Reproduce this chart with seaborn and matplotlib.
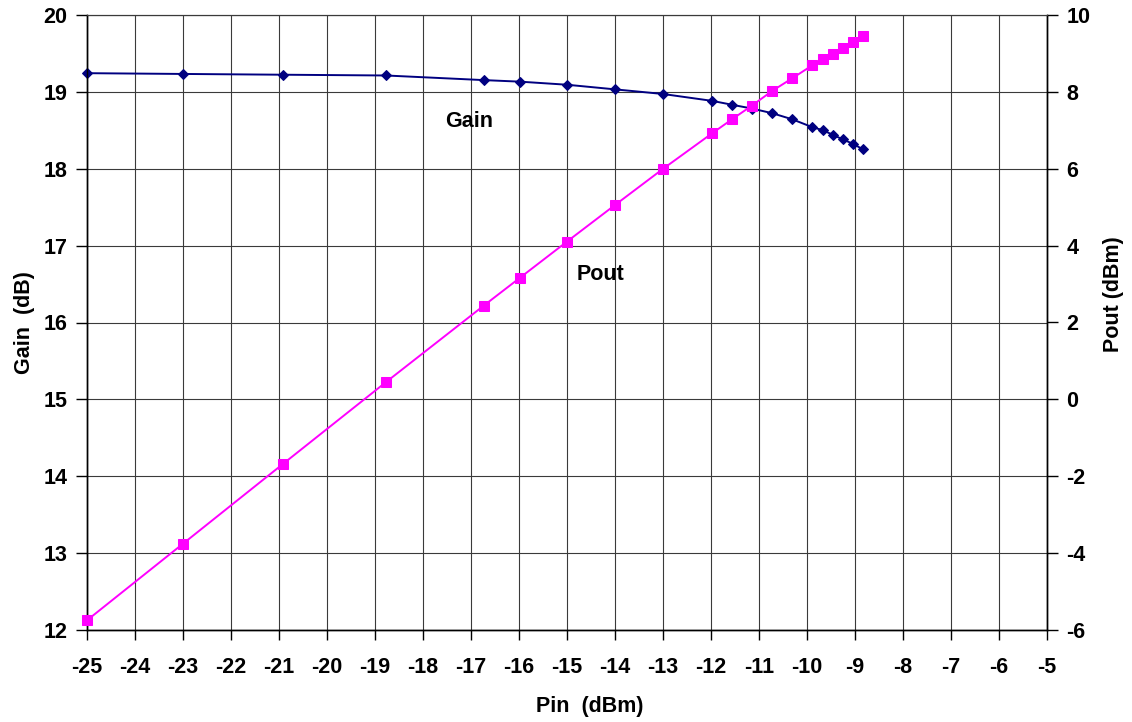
import matplotlib
matplotlib.use("Agg")
import matplotlib.pyplot as plt
import seaborn as sns
import numpy as np

# ---- data ----
pin = [-25.0, -23.0, -20.92, -18.77, -16.73, -15.98, -15.0, -14.0, -13.0, -11.97,
       -11.56, -11.14, -10.72, -10.30, -9.89, -9.67, -9.46, -9.25, -9.03, -8.83]
gain = [19.24, 19.23, 19.22, 19.21, 19.15, 19.13, 19.09, 19.03, 18.97, 18.88,
        18.83, 18.78, 18.72, 18.64, 18.54, 18.50, 18.44, 18.38, 18.32, 18.25]
pout = [-5.74, -3.75, -1.68, 0.45, 2.44, 3.16, 4.10, 5.05, 5.99, 6.92,
        7.28, 7.64, 8.02, 8.35, 8.68, 8.84, 8.99, 9.14, 9.30, 9.45]

x_ticks = list(range(-25, -4))
gain_ticks = list(range(12, 21))
pout_ticks = list(range(-6, 11, 2))

sns.set_theme(style="white")
plt.rcParams['font.family'] = ['Liberation Sans', 'DejaVu Sans']
plt.rcParams['font.weight'] = 'bold'
plt.rcParams['axes.unicode_minus'] = False
for k in ('text.color', 'axes.labelcolor', 'xtick.color', 'ytick.color',
          'xtick.labelcolor', 'ytick.labelcolor'):
    plt.rcParams[k] = 'black'

fig = plt.figure(figsize=(11.32, 7.22), dpi=100)
ax = fig.add_axes([87/1132, 1 - 630.3/722, (1046.7 - 87)/1132, (630.3 - 14.7)/722])
ax2 = ax.twinx()

GRID = '#3a3a3a'
ax.set_xlim(-25, -5)
ax.set_ylim(12, 20)
ax2.set_ylim(-6, 10)
ax.set_xticks(x_ticks)
ax.set_yticks(gain_ticks)
ax2.set_yticks(pout_ticks)
ax.grid(True, which='major', color=GRID, linewidth=0.8)
ax.set_axisbelow(True)

sns.lineplot(x=pin, y=gain, ax=ax, color='#000080', linewidth=1.4,
             marker='D', markersize=5, markeredgecolor='#000080',
             markerfacecolor='#000080', sort=False, clip_on=False, zorder=5)
sns.lineplot(x=pin, y=pout, ax=ax2, color='#FF00FF', linewidth=1.4,
             marker='s', markersize=6.5, markeredgecolor='#FF00FF',
             markerfacecolor='#FF00FF', sort=False, clip_on=False, zorder=5)

fs = 15.5
ax.tick_params(axis='x', direction='out', length=7, width=1, color='black',
               pad=12, labelsize=fs, bottom=True, labelcolor='black')
ax.tick_params(axis='y', direction='out', length=8, width=1, color='black',
               pad=6, labelsize=fs, left=True, labelcolor='black')
ax2.tick_params(axis='y', direction='out', length=8, width=1, color='black',
                pad=6, labelsize=fs, right=True, labelcolor='black')
for lab in ax.get_xticklabels() + ax.get_yticklabels() + ax2.get_yticklabels():
    lab.set_fontweight('bold')

for a in (ax, ax2):
    for side in ('left', 'bottom', 'right'):
        a.spines[side].set_visible(True)
        a.spines[side].set_color('black')
        a.spines[side].set_linewidth(1.0)
    a.spines['top'].set_visible(True)
    a.spines['top'].set_color(GRID)
    a.spines['top'].set_linewidth(0.8)

ax.set_xlabel('Pin  (dBm)', fontsize=fs, fontweight='bold', color='black')
ax.xaxis.set_label_coords(0.524, -0.123)
ax.xaxis.label.set_verticalalignment('center')
ax.set_ylabel('Gain  (dB)', fontsize=fs, fontweight='bold', color='black')
ax.yaxis.set_label_coords(-0.0656, 0.50)
ax.yaxis.label.set_verticalalignment('center')
ax2.set_ylabel('Pout (dBm)', fontsize=fs, fontweight='bold', color='black')
ax2.yaxis.set_label_coords(1.0695, 0.546)
ax2.yaxis.label.set_verticalalignment('center')

ax.text(-17.03, 18.61, 'Gain', fontsize=fs, fontweight='bold', ha='center',
        va='center', color='black')
ax.text(-14.3, 16.62, 'Pout', fontsize=fs, fontweight='bold', ha='center',
        va='center', color='black')

fig.savefig('out.png', dpi=100, facecolor='white')
